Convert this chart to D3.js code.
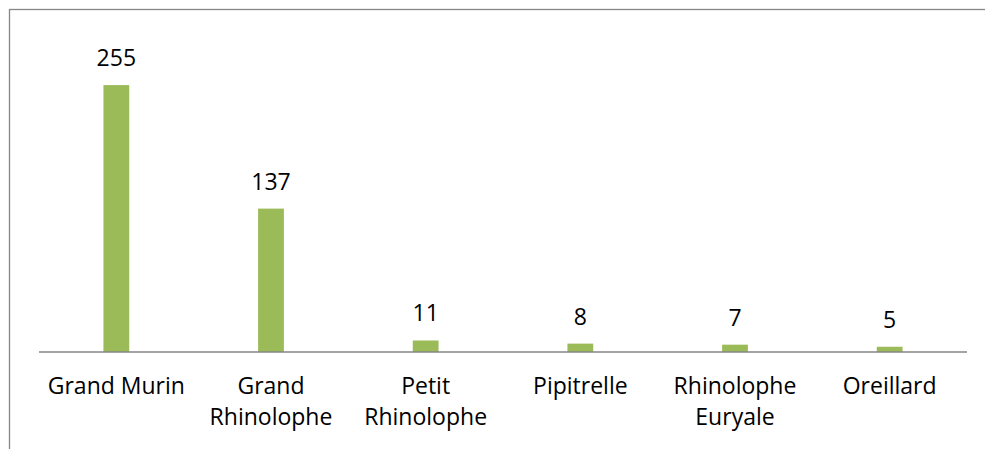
<!DOCTYPE html>
<html><head><meta charset="utf-8">
<script src="https://cdn.jsdelivr.net/npm/d3@7"></script>
<style>body{margin:0;background:#fff;} svg{display:block;}</style>
</head><body>
<svg id="c" width="985" height="449"></svg>
<script>
const categories = [["Grand Murin"],["Grand","Rhinolophe"],["Petit","Rhinolophe"],["Pipitrelle"],["Rhinolophe","Euryale"],["Oreillard"]];
const values = [255,137,11,8,7,5];

(function(){
const svg = d3.select("#c");
const left=39,right=967,axisY=352,plotTop=38;
const font="'Open Sans', sans-serif", fs=23;

svg.append("rect").attr("x",9.5).attr("y",9.5).attr("width",1200).attr("height",800)
  .attr("fill","#fff").attr("stroke","#868686").attr("stroke-width",1.3);

const x = d3.scaleBand().domain(d3.range(categories.length)).range([left,right]).paddingInner(0).paddingOuter(0);
const y = d3.scaleLinear().domain([0,300]).range([axisY,plotTop]);
const bw = x.bandwidth()/6;

svg.selectAll("rect.bar").data(values).join("rect").attr("class","bar")
  .attr("x",(d,i)=>x(i)+x.bandwidth()/2-bw/2).attr("width",bw)
  .attr("y",d=>y(d)).attr("height",d=>axisY-y(d)).attr("fill","#9BBB59");

svg.append("line").attr("x1",left).attr("x2",right).attr("y1",axisY).attr("y2",axisY)
  .attr("stroke","#868686").attr("stroke-width",1.5);

svg.selectAll("text.val").data(values).join("text").attr("class","val")
  .attr("x",(d,i)=>x(i)+x.bandwidth()/2).attr("y",d=>y(d)-19)
  .attr("text-anchor","middle").attr("font-family",font).attr("font-size",fs).attr("fill","#000").text(d=>d);

const g = svg.selectAll("text.cat").data(categories).join("text").attr("class","cat")
  .attr("text-anchor","middle").attr("font-family",font).attr("font-size",fs).attr("fill","#000");
g.each(function(lines,i){
  const t=d3.select(this);
  lines.forEach((l,j)=>t.append("tspan").attr("x",x(i)+x.bandwidth()/2).attr("y",394+j*31).text(l));
});
})();
</script>
</body></html>
